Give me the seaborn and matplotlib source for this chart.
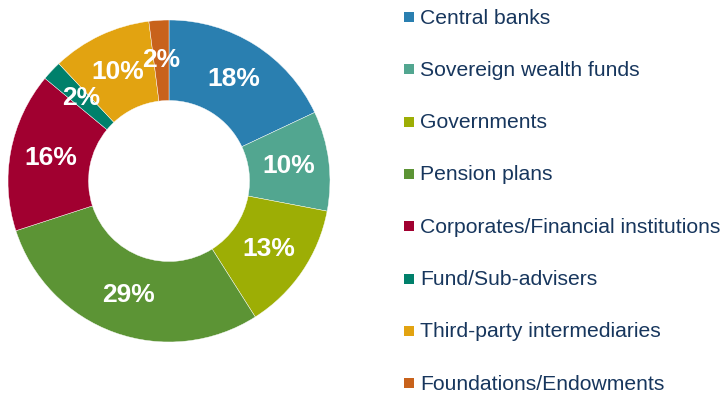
import matplotlib
matplotlib.use("Agg")
import matplotlib.pyplot as plt
import seaborn as sns
from matplotlib.patches import Rectangle

sns.set_theme(style="white")
plt.rcParams["font.family"] = ["Liberation Sans", "DejaVu Sans"]

categories = [
    "Central banks",
    "Sovereign wealth funds",
    "Governments",
    "Pension plans",
    "Corporates/Financial institutions",
    "Fund/Sub-advisers",
    "Third-party intermediaries",
    "Foundations/Endowments",
]
shares = [18, 10, 13, 29, 16, 2, 10, 2]
colors = ["#2A7FB0", "#52A690", "#9DAE05", "#5C9435",
          "#A10030", "#00806B", "#E2A311", "#C8621B"]
palette = sns.color_palette(colors)

W, H = 725, 394
fig = plt.figure(figsize=(W / 100, H / 100), dpi=100)

# donut: centre (169, 181) px, outer radius 161 px
cx, cy, r = 169, 181, 161
ax = fig.add_axes([(cx - r) / W, (H - cy - r) / H, 2 * r / W, 2 * r / H])
wedges, texts, autotexts = ax.pie(
    shares,
    colors=palette,
    startangle=90,
    counterclock=False,
    radius=1.0,
    autopct=lambda p: f"{p:.0f}%",
    pctdistance=0.75,
    wedgeprops=dict(width=0.5, edgecolor="white", linewidth=0.3),
    textprops=dict(color="white", fontsize=19, fontweight="bold"),
)
ax.set_aspect("equal")
ax.set_xlim(-1, 1)
ax.set_ylim(-1, 1)
ax.axis("off")

# legend entries: square swatch + label
text_color = "#17365D"
for i, (name, col) in enumerate(zip(categories, palette)):
    yc = 17 + 52.3 * i
    fig.patches.append(Rectangle(((404) / W, (H - yc - 5) / H), 10 / W, 10 / H,
                                 transform=fig.transFigure, facecolor=col,
                                 edgecolor="none"))
    fig.text(420 / W, (H - yc - 6.5) / H, name, fontsize=15.2, color=text_color,
             ha="left", va="baseline")

fig.savefig("out.png", dpi=100, facecolor="white")
